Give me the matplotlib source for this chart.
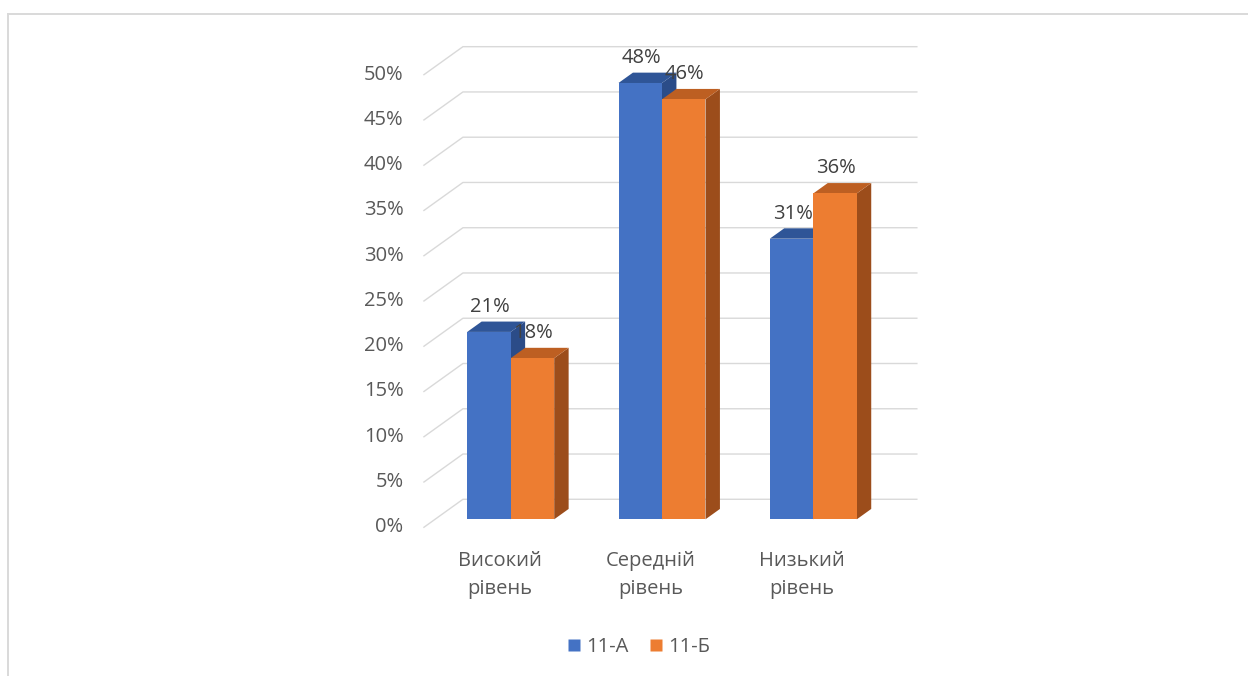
import matplotlib
matplotlib.use('Agg')
import matplotlib.pyplot as plt
from matplotlib.patches import Polygon
from matplotlib.lines import Line2D

categories = ['Високий\nрівень', 'Середній\nрівень', 'Низький\nрівень']
series_names = ['11-А', '11-Б']
values_a = [0.207, 0.482, 0.310]
values_b = [0.178, 0.464, 0.360]
yticks = [0.0, 0.05, 0.10, 0.15, 0.20, 0.25, 0.30, 0.35, 0.40, 0.45, 0.50]
ytick_labels = ['0%', '5%', '10%', '15%', '20%', '25%', '30%', '35%', '40%', '45%', '50%']

face_colors = ['#4472C4', '#ED7D31']
top_colors = ['#2F5597', '#BD5F22']
side_colors = ['#2B4C88', '#9C4D1B']
grid_color = '#D9D9D9'
label_color = '#595959'
data_label_color = '#404040'

plt.rcParams['font.family'] = ['Open Sans', 'DejaVu Sans']

W, H = 1248, 676
fig = plt.figure(figsize=(W / 100, H / 100), dpi=100)
fig.patch.set_facecolor('white')

# chart border (top & left visible)
fig.add_artist(Line2D([7.5 / W, 1.01], [1 - 13.5 / H, 1 - 13.5 / H], transform=fig.transFigure,
                      color='#D9D9D9', lw=1.4))
fig.add_artist(Line2D([7.5 / W, 7.5 / W], [1 - 13.5 / H, -0.01], transform=fig.transFigure,
                      color='#D9D9D9', lw=1.4))

ax = fig.add_axes([435.05 / W, 1 - 519.3 / H, 453.9 / W, 452.6 / H])
ax.set_xlim(-0.5, 2.5)
ax.set_ylim(0, 0.5)
ax.axis('off')

# 3D depth parameters (in data units)
DX = 39 / 151.3
DY = 28 / 905.2
front, back, bdepth = -0.285, 0.715, 0.37
bw = 0.2875
FS = 14.5

# gridlines (floor/back wall)
for v, lab in zip(yticks, ytick_labels):
    xs = [-0.5 + front * DX, -0.5 + back * DX, 2.5 + back * DX]
    ys = [v + front * DY, v + back * DY, v + back * DY]
    ax.plot(xs, ys, color=grid_color, lw=1.0, clip_on=False, zorder=1)
    ax.text(-0.5 + front * DX - 0.135, v + front * DY, lab, ha='right', va='center',
            fontsize=FS, color=label_color, clip_on=False)

# bars
bdx, bdy = bdepth * DX, bdepth * DY
for i in range(len(categories)):
    for j, vals in enumerate([values_a, values_b]):
        v = vals[i]
        x0 = i - bw + j * bw
        x1 = x0 + bw
        front_poly = Polygon([(x0, 0), (x1, 0), (x1, v), (x0, v)], closed=True,
                             facecolor=face_colors[j], edgecolor='none', zorder=3 + j, clip_on=False)
        top_poly = Polygon([(x0, v), (x1, v), (x1 + bdx, v + bdy), (x0 + bdx, v + bdy)], closed=True,
                           facecolor=top_colors[j], edgecolor='none', zorder=3 + j, clip_on=False)
        side_poly = Polygon([(x1, 0), (x1 + bdx, bdy), (x1 + bdx, v + bdy), (x1, v)], closed=True,
                            facecolor=side_colors[j], edgecolor='none', zorder=3 + j, clip_on=False)
        for p in (side_poly, top_poly, front_poly):
            ax.add_patch(p)

# data labels
for i in range(len(categories)):
    for j, vals in enumerate([values_a, values_b]):
        v = vals[i]
        xc = i - bw / 2 + j * bw + 0.007
        ax.text(xc, v + 0.0276, f'{round(v * 100):.0f}%', ha='center', va='center',
                fontsize=FS, color=data_label_color, zorder=10, clip_on=False)

# category labels
for i, c in enumerate(categories):
    ax.text(i + front * DX, -0.0615, c, ha='center', va='center', fontsize=FS,
            color=label_color, linespacing=1.5, clip_on=False)

handles = [Line2D([], [], marker='s', linestyle='none', markersize=8.0,
                  markerfacecolor=face_colors[k], markeredgecolor='none') for k in range(2)]
fig.legend(handles, series_names, loc='center', bbox_to_anchor=(637 / W, 1 - 647 / H),
           ncol=2, frameon=False, fontsize=FS, labelcolor=label_color,
           handletextpad=0.1, columnspacing=0.9, handlelength=1.0)

fig.savefig('out.png', dpi=100, facecolor='white')
